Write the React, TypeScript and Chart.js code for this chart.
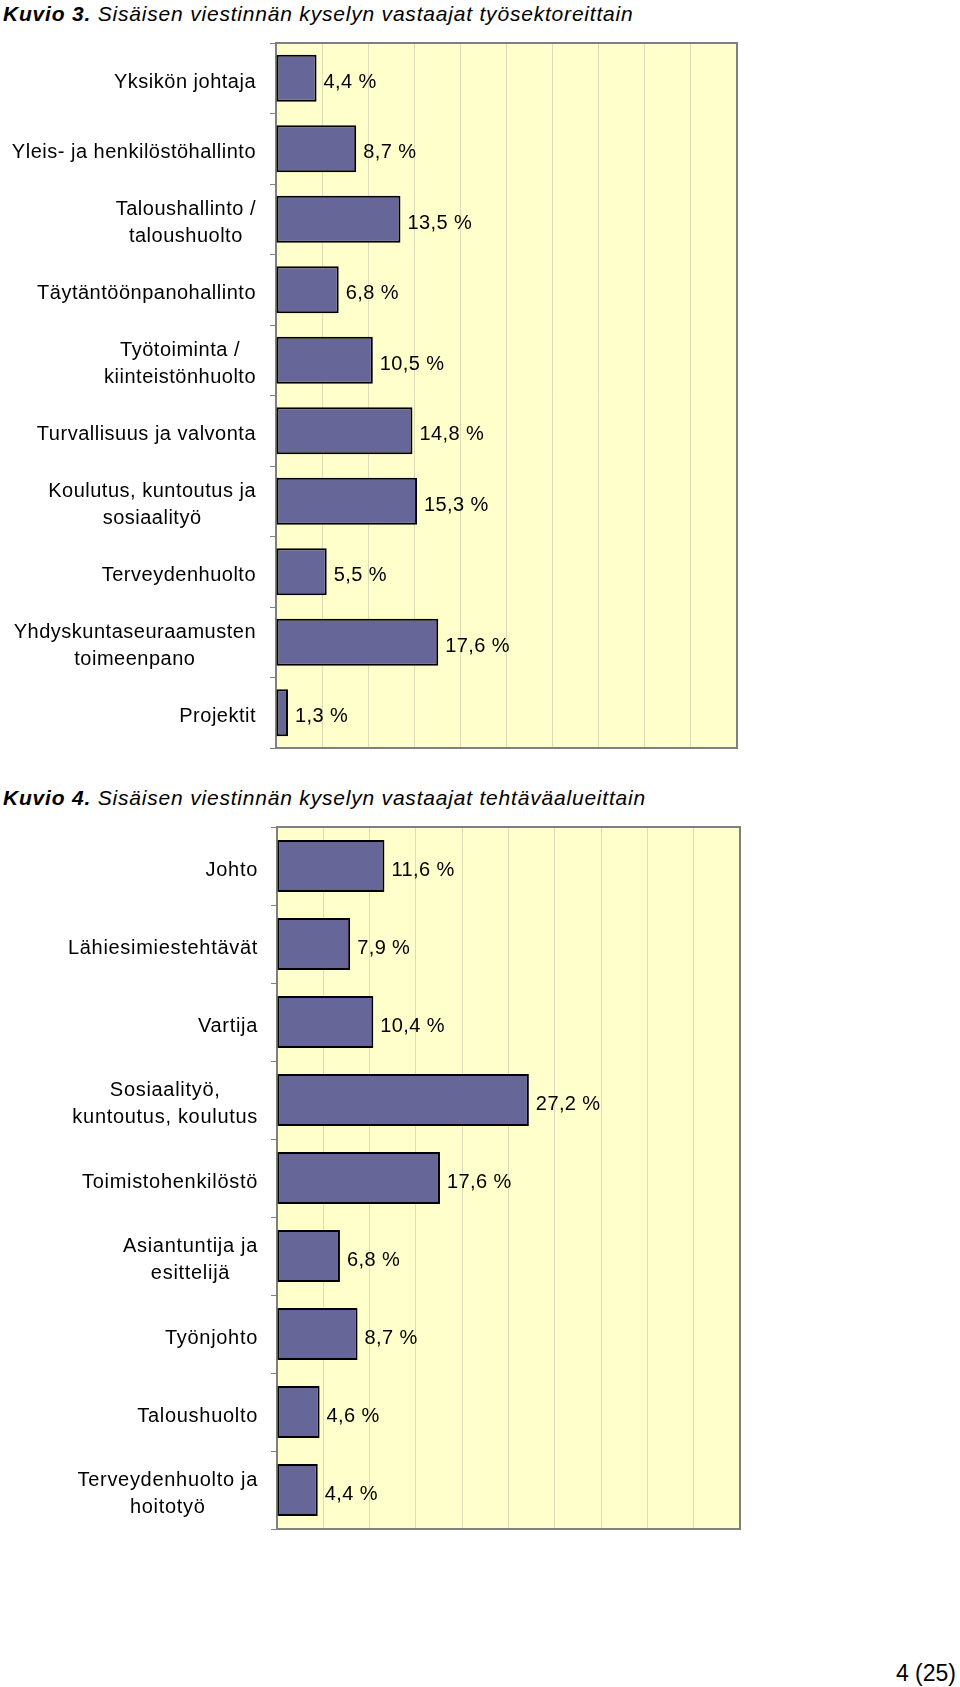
import React, { useEffect, useRef } from 'react';
import { Chart, registerables } from 'chart.js';

Chart.register(...registerables);

// ---- Data ----
const sectorLabels: (string | string[])[] = [
  'Yksikön johtaja',
  'Yleis- ja henkilöstöhallinto',
  ['Taloushallinto /', 'taloushuolto'],
  'Täytäntöönpanohallinto',
  ['Työtoiminta /', 'kiinteistönhuolto'],
  'Turvallisuus ja valvonta',
  ['Koulutus, kuntoutus ja', 'sosiaalityö'],
  'Terveydenhuolto',
  ['Yhdyskuntaseuraamusten', 'toimeenpano'],
  'Projektit',
];
const sectorValues = [4.4, 8.7, 13.5, 6.8, 10.5, 14.8, 15.3, 5.5, 17.6, 1.3];

const taskLabels: (string | string[])[] = [
  'Johto',
  'Lähiesimiestehtävät',
  'Vartija',
  ['Sosiaalityö,', 'kuntoutus, koulutus'],
  'Toimistohenkilöstö',
  ['Asiantuntija ja', 'esittelijä'],
  'Työnjohto',
  'Taloushuolto',
  ['Terveydenhuolto ja', 'hoitotyö'],
];
const taskValues = [11.6, 7.9, 10.4, 27.2, 17.6, 6.8, 8.7, 4.6, 4.4];

const axisMax = 50;
const axisStep = 5;

const FONT = '"Liberation Sans", Arial, Helvetica, sans-serif';

function makeDecor(labels: (string | string[])[], values: number[], labelRight: number, spacing: string) {
  return {
    id: 'decor',
    beforeDraw(chart: any) {
      const { ctx, chartArea: a } = chart;
      ctx.save();
      ctx.fillStyle = '#FFFFCC';
      ctx.fillRect(a.left, a.top, a.right - a.left, a.bottom - a.top);
      ctx.restore();
    },
    beforeDatasetsDraw(chart: any) {
      const { ctx, chartArea: a } = chart;
      ctx.save();
      ctx.strokeStyle = '#808080';
      ctx.lineWidth = 2;
      ctx.strokeRect(a.left, a.top, a.right - a.left, a.bottom - a.top);
      ctx.restore();
    },
    afterDatasetsDraw(chart: any) {
      const { ctx } = chart;
      const ys = chart.scales.y;
      const xs = chart.scales.x;
      ctx.save();
      ctx.fillStyle = '#000000';
      ctx.font = `20px ${FONT}`;
      labels.forEach((lab, i) => {
        const cy = ys.getPixelForValue(i);
        const lines = Array.isArray(lab) ? lab : [lab];
        (ctx as any).letterSpacing = spacing;
        const widths = lines.map((l) => ctx.measureText(l).width);
        const maxW = Math.max(...widths);
        const cx = labelRight - maxW / 2;
        ctx.textAlign = 'center';
        ctx.textBaseline = 'alphabetic';
        lines.forEach((l, j) => {
          ctx.fillText(l, cx, cy + 9.5 + (j - (lines.length - 1) / 2) * 27);
        });
        (ctx as any).letterSpacing = '0.4px';
        const v = values[i];
        const bx = xs.getPixelForValue(v);
        ctx.textAlign = 'left';
        ctx.fillText(v.toFixed(1).replace('.', ',') + ' %', bx + 7, cy + 9.5);
      });
      ctx.restore();
    },
  };
}

function BarChart(props: {
  labels: (string | string[])[];
  values: number[];
  top: number;
  height: number;
  axisLeft: number;
  padRight: number;
  padTop: number;
  padBottom: number;
  labelRight: number;
  spacing: string;
}) {
  const ref = useRef<HTMLCanvasElement | null>(null);
  useEffect(() => {
    if (!ref.current) return;
    const chart = new Chart(ref.current, {
      type: 'bar',
      data: {
        labels: props.labels.map((l) => (Array.isArray(l) ? l.join(' ') : l)),
        datasets: [
          {
            data: props.values,
            backgroundColor: '#666699',
            borderColor: '#000000',
            borderWidth: 2,
            borderSkipped: false,
            categoryPercentage: 1,
            barPercentage: 0.667,
          },
        ],
      },
      options: {
        indexAxis: 'y',
        responsive: false,
        animation: false,
        devicePixelRatio: 1,
        layout: {
          padding: { left: 0, right: props.padRight, top: props.padTop, bottom: props.padBottom },
        },
        plugins: {
          legend: { display: false },
          tooltip: { enabled: false },
          title: { display: false },
        },
        scales: {
          x: {
            type: 'linear',
            min: 0,
            max: axisMax,
            ticks: { display: false, stepSize: axisStep },
            grid: { color: '#dcdcb8', lineWidth: 1, drawTicks: false },
            border: { display: false },
          },
          y: {
            type: 'category',
            ticks: { display: false },
            grid: {
              offset: true,
              drawOnChartArea: false,
              drawTicks: true,
              tickLength: 6,
              color: '#808080',
              lineWidth: 1,
            },
            border: { display: false },
            afterFit: (s: any) => {
              s.width = props.axisLeft;
            },
          },
        },
      } as any,
      plugins: [makeDecor(props.labels, props.values, props.labelRight, props.spacing)],
    });
    return () => chart.destroy();
  }, []);
  return (
    <canvas
      ref={ref}
      width={960}
      height={props.height}
      style={{ position: 'absolute', left: 0, top: props.top, width: 960, height: props.height }}
    />
  );
}

const titleStyle: React.CSSProperties = {
  position: 'absolute',
  left: 3,
  fontFamily: FONT,
  fontSize: 21,
  lineHeight: '21px',
  letterSpacing: '0.8px',
  fontStyle: 'italic',
  whiteSpace: 'nowrap',
  color: '#000',
};

export default function App() {
  return (
    <div
      style={{
        position: 'absolute',
        left: 0,
        top: 0,
        width: 960,
        height: 1687,
        background: '#ffffff',
        overflow: 'hidden',
      }}
    >
      <div style={{ ...titleStyle, top: 3 }}>
        <b>Kuvio 3.</b> Sisäisen viestinnän kyselyn vastaajat työsektoreittain
      </div>
      <BarChart
        labels={sectorLabels}
        values={sectorValues}
        top={0}
        height={770}
        axisLeft={276}
        padRight={223}
        padTop={43}
        padBottom={22}
        labelRight={256}
        spacing="0.5px"
      />
      <div style={{ ...titleStyle, top: 787 }}>
        <b>Kuvio 4.</b> Sisäisen viestinnän kyselyn vastaajat tehtäväalueittain
      </div>
      <BarChart
        labels={taskLabels}
        values={taskValues}
        top={780}
        height={770}
        axisLeft={277}
        padRight={220}
        padTop={47}
        padBottom={21}
        labelRight={258}
        spacing="0.7px"
      />
      <div
        style={{
          position: 'absolute',
          right: 4,
          top: 1662,
          fontFamily: FONT,
          fontSize: 23,
          lineHeight: '23px',
          color: '#000',
          whiteSpace: 'nowrap',
        }}
      >
        4 (25)
      </div>
    </div>
  );
}
